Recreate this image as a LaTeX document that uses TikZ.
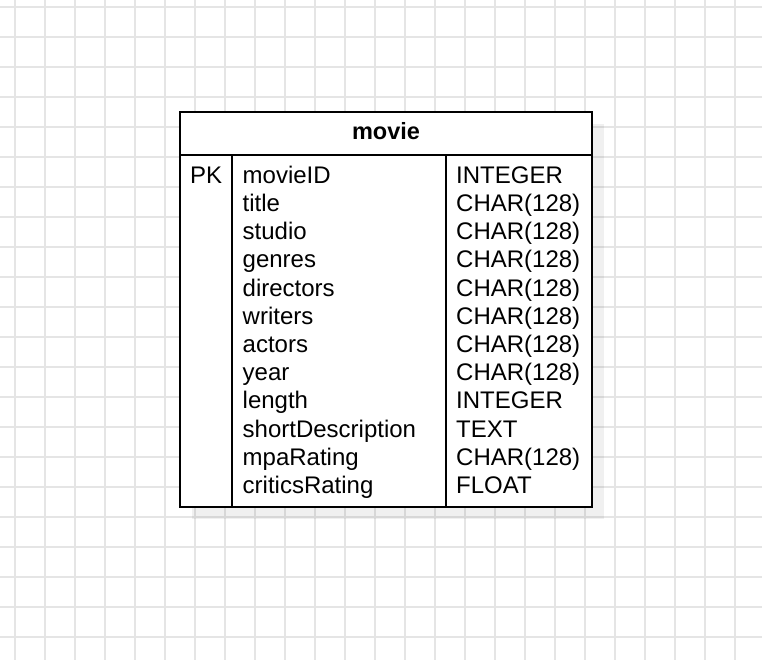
\documentclass[tikz,border=0pt]{standalone}
\usepackage{fontspec}
\setmainfont{Liberation Sans}
\begin{document}
\begin{tikzpicture}[x=1pt,y=-1pt,
  gridline/.style={draw=black!10,line width=1.2pt},
  tablebox/.style={draw=black,line width=1.5pt},
  cell/.style={anchor=base west,inner sep=0pt,font=\fontsize{24}{28}\selectfont},
  headcell/.style={anchor=base,inner sep=0pt,font=\fontsize{23.5}{28}\selectfont\bfseries}]
\useasboundingbox (0,0) rectangle (762,660);
\fill[white] (0,0) rectangle (762,660);
% grid
\foreach \x in {15,45,...,735} \draw[gridline] (\x,0) -- (\x,660);
\foreach \y in {7,37,...,637} \draw[gridline] (0,\y) -- (762,\y);
% table corners
\coordinate (tl) at (180,112);
\coordinate (tr) at (592,112);
\coordinate (bl) at (180,507);
\coordinate (br) at (592,507);
\coordinate (hl) at (180,155);
\coordinate (hr) at (592,155);
\coordinate (pkt) at (232,155);
\coordinate (pkb) at (232,507);
\coordinate (tyt) at (446,155);
\coordinate (tyb) at (446,507);
% shadow
\fill[black,opacity=0.06] (192,124) rectangle (604,519);
\fill[white] (tl) rectangle (br);
\draw[tablebox] (tl) rectangle (br);
\draw[tablebox] (hl) -- (hr);
\draw[tablebox] (pkt) -- (pkb);
\draw[tablebox] (tyt) -- (tyb);
\node[headcell] (head) at (386,140) {movie};
\node[cell] (pk) at (190,183.3) {PK};
\foreach \f/\t [count=\i from 0] in {movieID/INTEGER,title/CHAR(128),studio/CHAR(128),
  genres/CHAR(128),directors/CHAR(128),writers/CHAR(128),actors/CHAR(128),
  year/CHAR(128),length/INTEGER,shortDescription/TEXT,mpaRating/CHAR(128),
  criticsRating/FLOAT}
{
  \node[cell] (field\i) at (242.5,183.3+28.2*\i) {\f};
  \node[cell] (type\i) at (456,183.3+28.2*\i) {\t};
}
\end{tikzpicture}
\end{document}
